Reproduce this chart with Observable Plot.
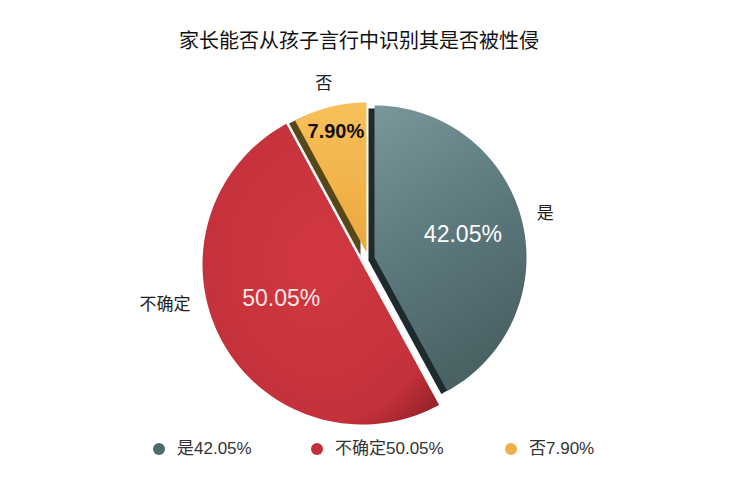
<!DOCTYPE html>
<html><head><meta charset="utf-8">
<script src="https://cdn.jsdelivr.net/npm/d3@7"></script>
<script src="https://cdn.jsdelivr.net/npm/@observablehq/plot@0.6"></script>
<style>
body{margin:0;background:#fff;font-family:"Liberation Sans","Noto Sans CJK SC",sans-serif;}
#wrap{position:relative;width:750px;height:487px;overflow:hidden;}
#title{height:70px;box-sizing:border-box;padding-top:28px;padding-right:32px;text-align:center;font-size:20px;line-height:24px;color:#111;font-family:"Noto Sans CJK SC",sans-serif;}
#chart svg{display:block;}
#legend{position:relative;height:34px;}
.li{position:absolute;top:0;height:34px;line-height:34px;font-size:17px;color:#333;white-space:nowrap;font-family:"Liberation Sans","Noto Sans CJK SC",sans-serif;}
.dot{position:absolute;top:11px;width:12px;height:12px;border-radius:50%;}
</style>
</head><body>
<div id="wrap">
<div id="title">家长能否从孩子言行中识别其是否被性侵</div>
<div id="chart"></div>
<div id="legend"></div>
</div>
<script>
// ---- data ----
const categories = ["是", "不确定", "否"];
const values = [42.05, 50.05, 7.90];
const valueLabels = ["42.05%", "50.05%", "7.90%"];
const legendLabels = ["是42.05%", "不确定50.05%", "否7.90%"];
const colors = ["#4d6a6f", "#c2303a", "#efb04a"];

// ---- layout (exploded, slightly perspective pie) ----
const W = 750, H = 362, TOP = 70;
const sliceCenters = [[374, 257], [362, 264], [366, 252]];
const sliceRadii = [152, 160, 150];
const sideColors = ["#1e2a2c", null, "#574618"];
const sideOffset = [-6, 3];
const valueLabelRadius = [0.6, 0.55, 0.83];
const valueLabelAngleShift = [0, 6, 0];
const outerLabelRadius = [1.16, 1.26, 1.16];
const outerLabelAngleShift = [0, 17, 0];
const valueLabelStyle = [
  {fill: "#ffffff", fontSize: 23, fontWeight: 400},
  {fill: "#f7e6e6", fontSize: 23, fontWeight: 400},
  {fill: "#111111", fontSize: 20, fontWeight: 700}
];
const gradientIds = ["gGray", "gRed", "gYellow"];

const arcs = d3.pie().sort(null).value(d => d)(values);

function polygon(i, dx = 0, dy = 0) {
  const [cx, cy] = sliceCenters[i], r = sliceRadii[i];
  const a0 = arcs[i].startAngle, a1 = arcs[i].endAngle;
  const n = 80, pts = [{x: cx + dx, y: cy + dy}];
  for (let k = 0; k <= n; k++) {
    const a = a0 + (a1 - a0) * k / n;
    pts.push({x: cx + dx + r * Math.sin(a), y: cy + dy - r * Math.cos(a)});
  }
  pts.push({x: cx + dx, y: cy + dy});
  return pts;
}
function polar(i, f, shiftDeg = 0) {
  const [cx, cy] = sliceCenters[i], r = sliceRadii[i] * f;
  const a = (arcs[i].startAngle + arcs[i].endAngle) / 2 + shiftDeg * Math.PI / 180;
  return {x: cx + r * Math.sin(a), y: cy - r * Math.cos(a)};
}

const defs = () => {
  const d = d3.create("svg:defs");
  const g0 = d.append("linearGradient").attr("id", "gGray").attr("x1", 0).attr("y1", 0).attr("x2", 0.35).attr("y2", 1);
  [[0, "#7a979b"], [0.45, "#607d82"], [1, "#4a6264"]].forEach(([o, c]) => g0.append("stop").attr("offset", o).attr("stop-color", c));
  const g1 = d.append("radialGradient").attr("id", "gRed").attr("cx", 0.5).attr("cy", 0.45).attr("r", 0.68);
  [[0, "#d23842"], [0.8, "#c4313a"], [1, "#9a2229"]].forEach(([o, c]) => g1.append("stop").attr("offset", o).attr("stop-color", c));
  const g2 = d.append("linearGradient").attr("id", "gYellow").attr("x1", 0).attr("y1", 0).attr("x2", 0).attr("y2", 1);
  [[0, "#f9c05a"], [1, "#eba83e"]].forEach(([o, c]) => g2.append("stop").attr("offset", o).attr("stop-color", c));
  return d.node();
};

const marks = [defs];
// 3D sides
categories.forEach((c, i) => {
  if (!sideColors[i]) return;
  marks.push(Plot.line(polygon(i, sideOffset[0], sideOffset[1]), {x: "x", y: "y", fill: sideColors[i], stroke: "none"}));
});
// faces
categories.forEach((c, i) => {
  marks.push(Plot.line(polygon(i), {x: "x", y: "y", fill: `url(#${gradientIds[i]})`, stroke: "none"}));
});
// value labels
categories.forEach((c, i) => {
  const p = polar(i, valueLabelRadius[i], valueLabelAngleShift[i]);
  marks.push(Plot.text([{...p, t: valueLabels[i]}], {
    x: "x", y: "y", text: "t", ...valueLabelStyle[i],
    fontFamily: "Liberation Sans, sans-serif", textAnchor: "middle"
  }));
});
// category labels
categories.forEach((c, i) => {
  const p = polar(i, outerLabelRadius[i], outerLabelAngleShift[i]);
  marks.push(Plot.text([{...p, t: c}], {
    x: "x", y: "y", text: "t", fill: "#222", fontSize: 17,
    fontFamily: "Noto Sans CJK SC, sans-serif", textAnchor: "middle"
  }));
});

const chart = Plot.plot({
  width: W, height: H, margin: 0,
  style: {background: "transparent", overflow: "visible"},
  x: {domain: [0, W], range: [0, W], axis: null},
  y: {domain: [TOP, TOP + H], range: [0, H], axis: null},
  marks
});
document.getElementById("chart").appendChild(chart);

// legend
const legendX = [153, 311, 505];
const leg = document.getElementById("legend");
categories.forEach((c, i) => {
  const item = document.createElement("div");
  item.className = "li";
  item.style.left = legendX[i] + "px";
  item.innerHTML = `<span class="dot" style="left:0;background:${colors[i]}"></span><span style="margin-left:24px">${legendLabels[i]}</span>`;
  leg.appendChild(item);
});
</script>
</body></html>
